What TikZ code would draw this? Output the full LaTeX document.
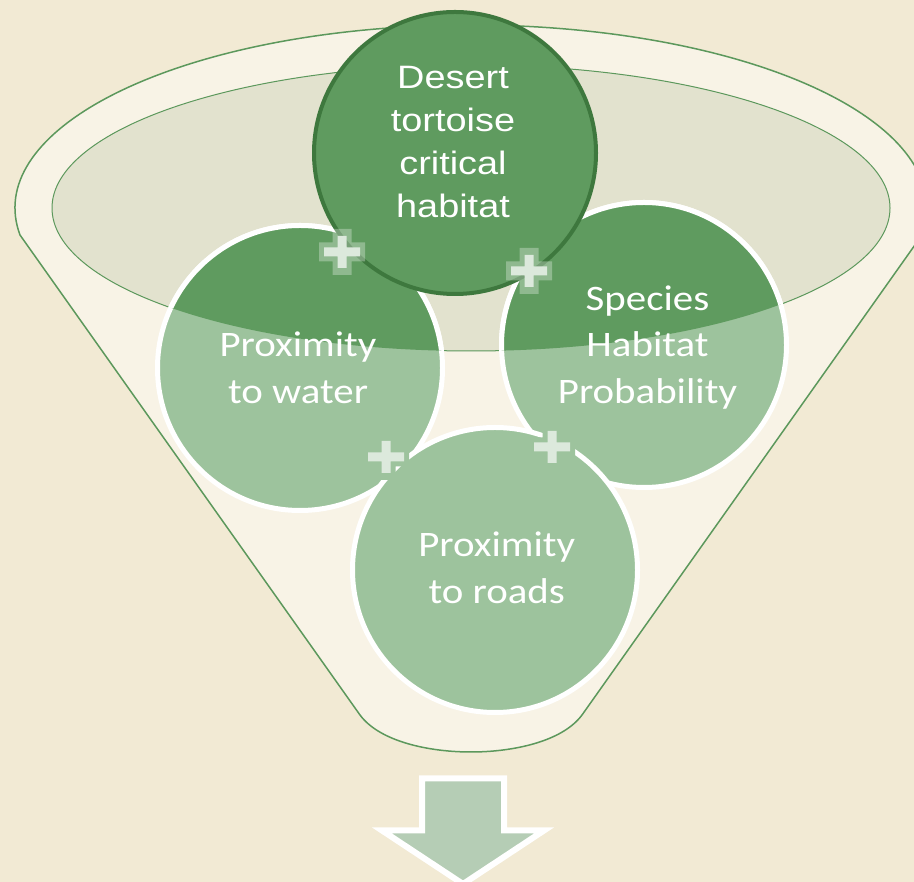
\documentclass[tikz,border=0pt]{standalone}
\usepackage{fontspec}
\newfontfamily\calibfont[FakeStretch=1.14]{Carlito}
\newfontfamily\arialfont[FakeStretch=1.17]{Liberation Sans}
\definecolor{parchment}{RGB}{242,234,212}
\definecolor{funnelbody}{RGB}{248,243,230}
\definecolor{bowlfill}{RGB}{226,226,206}
\definecolor{rimgreen}{RGB}{92,152,92}
\definecolor{darkleaf}{RGB}{95,155,95}
\definecolor{darkedge}{RGB}{62,120,62}
\definecolor{lightleaf}{RGB}{157,195,157}
\definecolor{arrowleaf}{RGB}{181,205,181}
\definecolor{plusleaf}{RGB}{220,233,220}

\begin{document}
\begin{tikzpicture}[x=1bp, y=1bp,
    disc/.style={circle, draw=white, line width=5bp, fill=lightleaf, minimum size=285bp, inner sep=0pt},
    topdisc/.style={circle, draw=darkedge, line width=4bp, fill=darkleaf, minimum size=282bp, inner sep=0pt},
    smalltext/.style={text=white, align=center, inner sep=0pt, anchor=base, font=\calibfont\fontsize{36}{46.7}\selectfont},
    toptext/.style={text=white, align=center, inner sep=0pt, anchor=base, font=\arialfont\fontsize{32.5}{43.3}\selectfont},
    pics/plusmark/.style={code={
        \fill[#1] (-23,-9.5) rectangle (23,9.5) (-9.5,-23) rectangle (9.5,23);
        \fill[plusleaf] (-18,-4.5) rectangle (18,4.5) (-4.5,-16) rectangle (4.5,16);
    }}]
    \useasboundingbox (0,0) rectangle (914,882);
    \fill[parchment] (0,0) rectangle (914,882);

    % funnel
    \filldraw[fill=funnelbody, draw=rimgreen, line width=1.5bp]
        (471,674) ++(188.5:456 and 183) arc[start angle=188.5, end angle=-8.5, x radius=456, y radius=183]
        -- (582,167) .. controls (562,140) and (512,130) .. (471,130)
        .. controls (430,130) and (380,140) .. (360,167) -- cycle;
    \filldraw[fill=bowlfill, draw=rimgreen, line width=1bp] (471,674) ellipse[x radius=419, y radius=143];

    % circles
    \node[disc] (water) at (300,514) {};
    \node[disc] (species) at (644,537) {};
    \node[disc] (roads) at (495,312) {};
    \begin{scope}
        \clip (471,674) ellipse[x radius=419, y radius=143];
        \filldraw[fill=darkleaf, draw=white, line width=5bp] (water.center) circle[radius=142.5];
        \filldraw[fill=darkleaf, draw=white, line width=5bp] (species.center) circle[radius=142.5];
    \end{scope}
    \node[topdisc] (desert) at (455,729) {};

    % base anchor sits on the last line
    \node[toptext] (tdesert) at (453,664) {Desert\\tortoise\\critical\\habitat};
    \node[smalltext] (twater) at (298,478.7) {Proximity\\to water};
    \node[smalltext] (tspecies) at (647.5,478.7) {Species\\Habitat\\Probability};
    \node[smalltext] (troads) at (496.7,278.7) {Proximity\\to roads};

    % plus signs
    \pic at (342,630) {plusmark={white, fill opacity=0.3}};
    \pic at (529,611) {plusmark={white, fill opacity=0.3}};
    \pic at (386,425) {plusmark=lightleaf};
    \pic at (552,435) {plusmark=lightleaf};

    % output arrow
    \filldraw[fill=arrowleaf, draw=white, line width=6bp, line join=miter]
        (422,103.5) -- (504,103.5) -- (504,51.5) -- (544,51.5) -- (463,-2)
        -- (382,51.5) -- (422,51.5) -- cycle;
\end{tikzpicture}
\end{document}
